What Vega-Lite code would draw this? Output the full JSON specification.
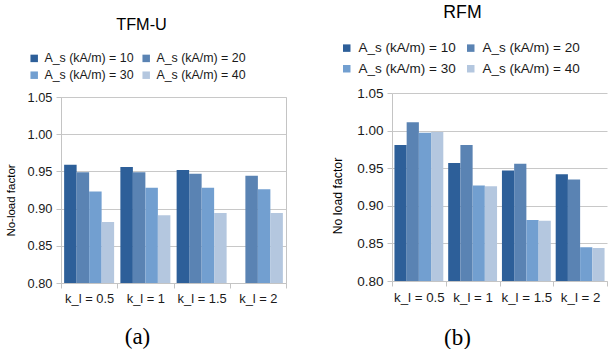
{
  "$schema": "https://vega.github.io/schema/vega-lite/v6.json",
  "padding": {"left": 4, "top": 4, "right": 0, "bottom": 0},
  "datasets": {
    "d": [
      {"model": "TFM-U", "k": "k_l = 0.5", "As": "A_s (kA/m) = 10", "v": 0.959},
      {"model": "TFM-U", "k": "k_l = 0.5", "As": "A_s (kA/m) = 20", "v": 0.949},
      {"model": "TFM-U", "k": "k_l = 0.5", "As": "A_s (kA/m) = 30", "v": 0.923},
      {"model": "TFM-U", "k": "k_l = 0.5", "As": "A_s (kA/m) = 40", "v": 0.882},
      {"model": "TFM-U", "k": "k_l = 1", "As": "A_s (kA/m) = 10", "v": 0.956},
      {"model": "TFM-U", "k": "k_l = 1", "As": "A_s (kA/m) = 20", "v": 0.949},
      {"model": "TFM-U", "k": "k_l = 1", "As": "A_s (kA/m) = 30", "v": 0.928},
      {"model": "TFM-U", "k": "k_l = 1", "As": "A_s (kA/m) = 40", "v": 0.891},
      {"model": "TFM-U", "k": "k_l = 1.5", "As": "A_s (kA/m) = 10", "v": 0.952},
      {"model": "TFM-U", "k": "k_l = 1.5", "As": "A_s (kA/m) = 20", "v": 0.947},
      {"model": "TFM-U", "k": "k_l = 1.5", "As": "A_s (kA/m) = 30", "v": 0.928},
      {"model": "TFM-U", "k": "k_l = 1.5", "As": "A_s (kA/m) = 40", "v": 0.894},
      {"model": "TFM-U", "k": "k_l = 2", "As": "A_s (kA/m) = 20", "v": 0.944},
      {"model": "TFM-U", "k": "k_l = 2", "As": "A_s (kA/m) = 30", "v": 0.926},
      {"model": "TFM-U", "k": "k_l = 2", "As": "A_s (kA/m) = 40", "v": 0.894},
      {"model": "RFM", "k": "k_l = 0.5", "As": "A_s (kA/m) = 10", "v": 0.981},
      {"model": "RFM", "k": "k_l = 0.5", "As": "A_s (kA/m) = 20", "v": 1.011},
      {"model": "RFM", "k": "k_l = 0.5", "As": "A_s (kA/m) = 30", "v": 0.997},
      {"model": "RFM", "k": "k_l = 0.5", "As": "A_s (kA/m) = 40", "v": 0.998},
      {"model": "RFM", "k": "k_l = 1", "As": "A_s (kA/m) = 10", "v": 0.957},
      {"model": "RFM", "k": "k_l = 1", "As": "A_s (kA/m) = 20", "v": 0.981},
      {"model": "RFM", "k": "k_l = 1", "As": "A_s (kA/m) = 30", "v": 0.927},
      {"model": "RFM", "k": "k_l = 1", "As": "A_s (kA/m) = 40", "v": 0.926},
      {"model": "RFM", "k": "k_l = 1.5", "As": "A_s (kA/m) = 10", "v": 0.947},
      {"model": "RFM", "k": "k_l = 1.5", "As": "A_s (kA/m) = 20", "v": 0.956},
      {"model": "RFM", "k": "k_l = 1.5", "As": "A_s (kA/m) = 30", "v": 0.881},
      {"model": "RFM", "k": "k_l = 1.5", "As": "A_s (kA/m) = 40", "v": 0.880},
      {"model": "RFM", "k": "k_l = 2", "As": "A_s (kA/m) = 10", "v": 0.942},
      {"model": "RFM", "k": "k_l = 2", "As": "A_s (kA/m) = 20", "v": 0.935},
      {"model": "RFM", "k": "k_l = 2", "As": "A_s (kA/m) = 30", "v": 0.845},
      {"model": "RFM", "k": "k_l = 2", "As": "A_s (kA/m) = 40", "v": 0.844}
    ]
  },
  "config": {
    "font": "Liberation Sans",
    "view": {"stroke": "#c4c4c4"},
    "axis": {
      "domainColor": "#c4c4c4",
      "tickColor": "#c4c4c4",
      "gridColor": "#c8c8c8",
      "labelColor": "#1a1a1a",
      "titleColor": "#000000",
      "titleFontWeight": "normal"
    },
    "title": {"fontWeight": "normal", "color": "#000000"},
    "legend": {"labelColor": "#1a1a1a"}
  },
  "spacing": 44,
  "resolve": {"scale": {"color": "independent", "x": "independent", "y": "independent", "xOffset": "independent"}},
  "hconcat": [
    {
      "width": 225,
      "height": 186,
      "title": {"text": "TFM-U", "fontSize": 16.3, "frame": "group", "anchor": "middle", "dx": -32, "offset": 19},
      "data": {"name": "d"},
      "transform": [{"filter": "datum.model === 'TFM-U'"}],
      "mark": {"type": "bar", "clip": true},
      "encoding": {
        "x": {
          "field": "k", "type": "nominal",
          "sort": ["k_l = 0.5", "k_l = 1", "k_l = 1.5", "k_l = 2"],
          "scale": {"paddingInner": 0, "paddingOuter": 0},
          "axis": {
            "title": "(a)", "titleFont": "Liberation Serif", "titleFontSize": 23,
            "titleX": 76, "titleY": 53, "titleBaseline": "middle",
            "labelAngle": 0, "labelFontSize": 12.9, "labelPadding": 4,
            "tickBand": "extent", "tickSize": 5, "grid": false
          }
        },
        "xOffset": {"field": "As", "type": "nominal", "scale": {"paddingInner": 0, "paddingOuter": 0.25}},
        "y": {
          "field": "v", "type": "quantitative",
          "scale": {"domain": [0.8, 1.05], "zero": false},
          "axis": {
            "values": [0.8, 0.85, 0.9, 0.95, 1.0, 1.05], "format": ".2f",
            "title": "No-load factor", "titleFontSize": 11.5,
            "titleX": -50, "titleY": 103, "titleBaseline": "middle",
            "labelFontSize": 12.8, "labelPadding": 4, "tickSize": 5
          }
        },
        "color": {
          "field": "As", "type": "nominal",
          "scale": {"range": ["#2d5f99", "#5a83b3", "#729fd0", "#b4c7df"]},
          "legend": {
            "orient": "none", "legendX": -33, "legendY": -45, "title": null,
            "columns": 2, "direction": "horizontal", "padding": 0,
            "symbolType": "square", "symbolSize": 56, "symbolStrokeWidth": 0,
            "labelFontSize": 12.4, "labelOffset": 4, "columnPadding": 6, "rowPadding": 4
          }
        }
      }
    },
    {
      "width": 215,
      "height": 184,
      "view": {"stroke": null},
      "title": {"text": "RFM", "fontSize": 17.7, "frame": "group", "anchor": "middle", "dx": -37, "offset": 19},
      "data": {"name": "d"},
      "transform": [{"filter": "datum.model === 'RFM'"}],
      "mark": {"type": "bar", "clip": true},
      "encoding": {
        "x": {
          "field": "k", "type": "nominal",
          "sort": ["k_l = 0.5", "k_l = 1", "k_l = 1.5", "k_l = 2"],
          "scale": {"paddingInner": 0, "paddingOuter": 0},
          "axis": {
            "title": "(b)", "titleFont": "Liberation Serif", "titleFontSize": 23,
            "titleX": 65, "titleY": 56, "titleBaseline": "middle",
            "labelAngle": 0, "labelFontSize": 13.3, "labelPadding": 4,
            "tickBand": "extent", "tickSize": 5, "grid": false
          }
        },
        "xOffset": {"field": "As", "type": "nominal", "scale": {"paddingInner": 0, "paddingOuter": 0.2}},
        "y": {
          "field": "v", "type": "quantitative",
          "scale": {"domain": [0.8, 1.05], "zero": false, "range": [184, -4]},
          "axis": {
            "values": [0.8, 0.85, 0.9, 0.95, 1.0, 1.05], "format": ".2f",
            "title": "No load factor", "titleFontSize": 12.3,
            "titleX": -55, "titleY": 98.5, "titleBaseline": "middle",
            "labelFontSize": 13.5, "labelPadding": 4, "tickSize": 5
          }
        },
        "color": {
          "field": "As", "type": "nominal",
          "scale": {"range": ["#2d5f99", "#5a83b3", "#729fd0", "#b4c7df"]},
          "legend": {
            "orient": "none", "legendX": -52, "legendY": -56, "title": null,
            "columns": 2, "direction": "horizontal", "padding": 0,
            "symbolType": "square", "symbolSize": 56, "symbolStrokeWidth": 0,
            "labelFontSize": 13.5, "labelOffset": 5, "columnPadding": 8, "rowPadding": 6
          }
        }
      }
    }
  ]
}
